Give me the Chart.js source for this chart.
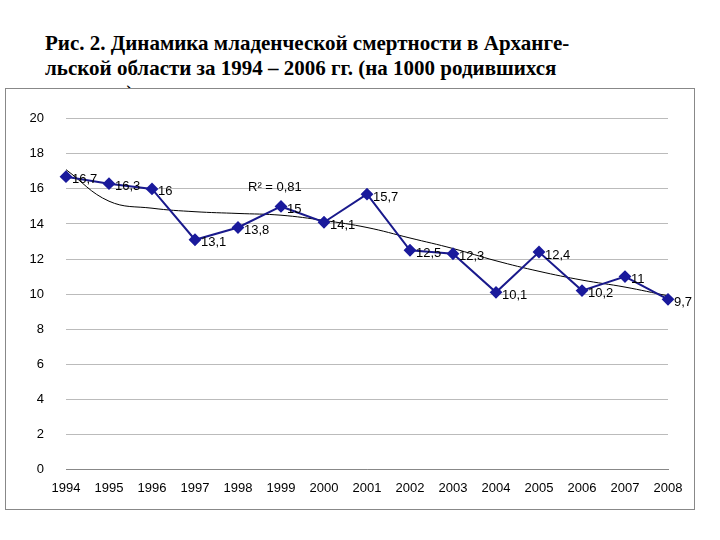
<!DOCTYPE html>
<html><head><meta charset="utf-8">
<script src="https://cdn.jsdelivr.net/npm/chart.js@4"></script>
<style>
body{margin:0;background:#fff;width:720px;height:540px;position:relative;overflow:hidden}
#title{position:absolute;left:45px;top:31px;font:bold 21px "Liberation Serif",serif;line-height:25px;color:#000;width:680px;white-space:nowrap}
#box{position:absolute;left:5px;top:88px;width:688px;height:420px;border:1px solid #888;background:#fff}
</style></head><body>
<div id="title">Рис. 2. Динамика младенческой смертности в Архангe-<br>льской области за 1994 – 2006 гг.  (на 1000 родившихся<br>живыми)</div>
<div id="box"><canvas id="c" width="688" height="420"></canvas></div>
<script>
const years = ['1994','1995','1996','1997','1998','1999','2000','2001','2002','2003','2004','2005','2006','2007','2008'];
const rates = [16.7,16.3,16,13.1,13.8,15,14.1,15.7,12.5,12.3,10.1,12.4,10.2,11,9.7];
const trend = [17.1,15.3,14.9,14.7,14.6,14.5,14.2,13.8,13.2,12.6,11.9,11.3,10.8,10.4,9.9];

// value labels to the right of each point
const labelPlugin = {
    id: 'labels',
    afterDatasetsDraw(chart) {
        const ctx = chart.ctx;
        const meta = chart.getDatasetMeta(0);
        ctx.save();
        ctx.font = '13px "Liberation Sans", Arial';
        ctx.fillStyle = '#000';
        ctx.textBaseline = 'middle';
        meta.data.forEach((p, i) => {
            ctx.fillText(String(rates[i]).replace('.', ','), p.x + 6, p.y + 3);
        });
        ctx.fillText('R² = 0,81', chart.scales.x.getPixelForValue(4) + 10, chart.scales.y.getPixelForValue(16.1));
        ctx.restore();
    }
};

new Chart(document.getElementById('c'), {
    type: 'line',
    data: {
        labels: years,
        datasets: [{
            data: rates,
            borderColor: '#1a1a8c',
            borderWidth: 2,
            pointStyle: 'rectRot',
            pointRadius: 5,
            pointBackgroundColor: '#1a1a9c',
            pointBorderColor: '#1a1a9c',
            tension: 0
        }, {
            data: trend,
            borderColor: '#000',
            borderWidth: 1,
            pointRadius: 0,
            tension: 0.4
        }]
    },
    plugins: [labelPlugin],
    options: {
        responsive: false,
        animation: false,
        layout: {padding: {top: 17, right: 26, bottom: 10, left: 4}},
        plugins: {legend: {display: false}, tooltip: {enabled: false}},
        scales: {
            y: {
                min: 0, max: 20,
                afterFit(s) { s.width = 56; },
                ticks: {stepSize: 2, color: '#000', font: {size: 13, family: 'Liberation Sans'}, padding: 22},
                grid: {color: '#bbb', drawTicks: false},
                border: {display: false}
            },
            x: {
                offset: false,
                ticks: {color: '#000', font: {size: 13, family: 'Liberation Sans'}, maxRotation: 0, autoSkip: false},
                grid: {display: false},
                border: {color: '#888'}
            }
        }
    }
});
</script>
</body></html>
